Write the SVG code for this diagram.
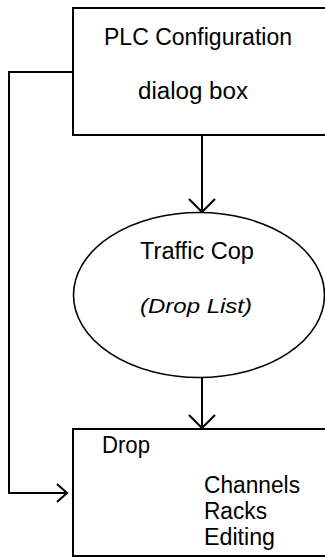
<svg xmlns="http://www.w3.org/2000/svg" width="325" height="558" viewBox="0 0 325 558">
<style>
.box{fill:#fff;stroke:#000;stroke-width:2}
.ell{fill:#fff;stroke:#000;stroke-width:1.6}
.ln{fill:none;stroke:#000;stroke-width:2}
.t{font-family:"Liberation Sans",Arial,sans-serif;font-size:23px;fill:#000}
.i{font-style:italic;font-size:20px}
</style>
<rect width="325" height="558" fill="#fff"/>
<g id="connectors">
<path class="ln" d="M202 135V212M189 199L202 212L215 199"/>
<path class="ln" d="M202 378V428M189 415L202 428L215 415"/>
<path class="ln" d="M73 72H9V493H67M57 484L67 493L57 502"/>
</g>
<g id="plc">
<rect class="box" x="73" y="8" width="262" height="127"/>
<text class="t" x="104" y="45" textLength="188" lengthAdjust="spacingAndGlyphs">PLC Configuration</text>
<text class="t" x="138" y="99" textLength="110" lengthAdjust="spacingAndGlyphs">dialog box</text>
</g>
<g id="traffic">
<ellipse class="ell" cx="199" cy="295" rx="125.5" ry="82.5"/>
<text class="t" x="140" y="259" textLength="114" lengthAdjust="spacingAndGlyphs">Traffic Cop</text>
<text class="t i" x="140" y="313" textLength="112" lengthAdjust="spacingAndGlyphs">(Drop List)</text>
</g>
<g id="drop">
<rect class="box" x="73" y="429" width="262" height="127"/>
<text class="t" x="102" y="453" textLength="48" lengthAdjust="spacingAndGlyphs">Drop</text>
<text class="t" x="204" y="493" textLength="96" lengthAdjust="spacingAndGlyphs">Channels</text>
<text class="t" x="204" y="519" textLength="63" lengthAdjust="spacingAndGlyphs">Racks</text>
<text class="t" x="204" y="545" textLength="71" lengthAdjust="spacingAndGlyphs">Editing</text>
</g>
</svg>
